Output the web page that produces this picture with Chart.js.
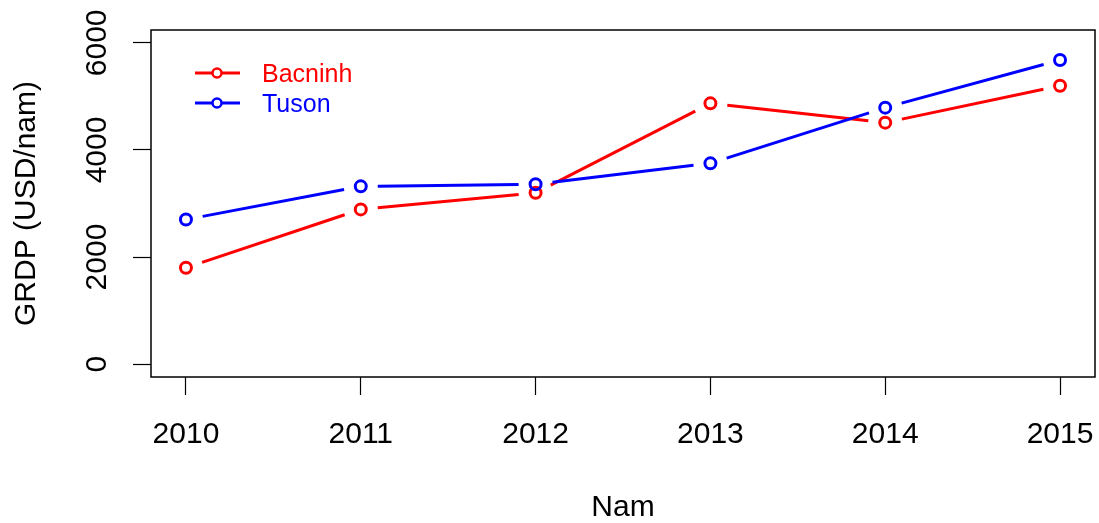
<!DOCTYPE html>
<html>
<head>
<meta charset="utf-8">
<script src="https://cdn.jsdelivr.net/npm/chart.js@4"></script>
<style>
  html, body { margin: 0; padding: 0; background: #fff; }
  #wrap { width: 1099px; height: 523px; }
</style>
</head>
<body>
<div id="wrap"><canvas id="chart" width="1099" height="523"></canvas></div>
<script>
// GRDP per year
const years = [2010, 2011, 2012, 2013, 2014, 2015];
const bacninh = [1800, 2890, 3200, 4870, 4510, 5200];
const tuson = [2700, 3320, 3360, 3750, 4790, 5680];
const yTicks = [0, 1000, 2000, 3000, 4000, 5000, 6000];
const seriesNames = ['Bacninh', 'Tuson'];
const seriesColors = ['#ff0000', '#0000ff'];

Chart.defaults.font.family = "'Liberation Sans', Arial, sans-serif";
Chart.defaults.color = '#000';

const toPoints = vals => vals.map((v, i) => ({ x: years[i], y: v }));

// R type="b": line segments stop short of each point
const GAP = 17;
const gappedLines = {
  id: 'gappedLines',
  beforeDatasetDraw(chart, args) {
    const meta = args.meta;
    const ds = chart.data.datasets[args.index];
    const ctx = chart.ctx;
    ctx.save();
    ctx.strokeStyle = ds.borderColor;
    ctx.lineWidth = 3;
    ctx.lineCap = 'butt';
    for (let i = 0; i < meta.data.length - 1; i++) {
      const a = meta.data[i], b = meta.data[i + 1];
      const dx = b.x - a.x, dy = b.y - a.y;
      const len = Math.sqrt(dx * dx + dy * dy);
      if (len <= 2 * GAP) continue;
      const ux = dx / len, uy = dy / len;
      ctx.beginPath();
      ctx.moveTo(a.x + ux * GAP, a.y + uy * GAP);
      ctx.lineTo(b.x - ux * GAP, b.y - uy * GAP);
      ctx.stroke();
    }
    ctx.restore();
  }
};

// plot box + legend in top-left corner (no frame)
const boxAndLegend = {
  id: 'boxAndLegend',
  afterDraw(chart) {
    const ctx = chart.ctx;
    const a = chart.chartArea;
    ctx.save();
    ctx.strokeStyle = '#000';
    ctx.lineWidth = 1.5;
    ctx.strokeRect(a.left, a.top, a.right - a.left, a.bottom - a.top);

    ctx.font = "25px 'Liberation Sans', Arial, sans-serif";
    ctx.textBaseline = 'middle';
    ctx.textAlign = 'left';
    seriesNames.forEach((name, i) => {
      const y = 73 + i * 30;
      ctx.strokeStyle = seriesColors[i];
      ctx.lineWidth = 3;
      ctx.beginPath();
      ctx.moveTo(195, y);
      ctx.lineTo(240, y);
      ctx.stroke();
      ctx.beginPath();
      ctx.arc(217, y, 4.5, 0, Math.PI * 2);
      ctx.fillStyle = '#fff';
      ctx.fill();
      ctx.lineWidth = 2.5;
      ctx.stroke();
      ctx.fillStyle = seriesColors[i];
      ctx.fillText(name, 262, y + 2);
    });
    ctx.restore();
  }
};

new Chart(document.getElementById('chart'), {
  type: 'line',
  data: {
    datasets: [
      {
        label: seriesNames[0],
        data: toPoints(bacninh),
        borderColor: seriesColors[0],
        backgroundColor: seriesColors[0],
        pointBackgroundColor: 'rgba(0,0,0,0)',
        pointBorderColor: seriesColors[0],
        order: 1
      },
      {
        label: seriesNames[1],
        data: toPoints(tuson),
        borderColor: seriesColors[1],
        backgroundColor: seriesColors[1],
        pointBackgroundColor: 'rgba(0,0,0,0)',
        pointBorderColor: seriesColors[1],
        order: 0
      }
    ]
  },
  options: {
    responsive: false,
    devicePixelRatio: 1,
    animation: false,
    showLine: false,
    elements: {
      point: { radius: 5.5, borderWidth: 3, hoverRadius: 5.5 }
    },
    layout: { autoPadding: false, padding: { top: 30, right: 4, left: 0, bottom: 0 } },
    plugins: {
      legend: { display: false },
      tooltip: { enabled: false }
    },
    scales: {
      x: {
        type: 'linear',
        min: 2009.8,
        max: 2015.2,
        afterBuildTicks(scale) {
          scale.ticks = years.map(v => ({ value: v }));
        },
        afterFit(scale) {
          scale.height = 146;
          scale.paddingLeft = 0;
          scale.paddingRight = 0;
        },
        border: { display: false },
        grid: { drawOnChartArea: false, drawTicks: true, tickLength: 18, color: '#000', tickWidth: 1.2 },
        ticks: {
          font: { size: 30 },
          color: '#000',
          padding: 22,
          maxRotation: 0,
          callback: v => String(v)
        },
        title: {
          display: true,
          text: 'Nam',
          font: { size: 30, lineHeight: 1 },
          color: '#000',
          padding: { top: 0, bottom: 0 }
        }
      },
      y: {
        min: -240,
        max: 6240,
        afterBuildTicks(scale) {
          scale.ticks = yTicks.map(v => ({ value: v }));
        },
        afterFit(scale) {
          scale.width = 151;
          scale.paddingTop = 0;
          scale.paddingBottom = 0;
        },
        border: { display: false },
        grid: { drawOnChartArea: false, drawTicks: true, tickLength: 18, color: '#000', tickWidth: 1.2 },
        ticks: {
          font: { size: 30 },
          color: '#000',
          padding: 2,
          minRotation: 90,
          maxRotation: 90,
          crossAlign: 'center',
          callback: v => (v % 2000 === 0 ? String(v) : '')
        },
        title: {
          display: true,
          text: 'GRDP (USD/nam)',
          font: { size: 30, lineHeight: 1 },
          color: '#000',
          padding: { top: 12, bottom: 0 }
        }
      }
    }
  },
  plugins: [gappedLines, boxAndLegend]
});
</script>
</body>
</html>
